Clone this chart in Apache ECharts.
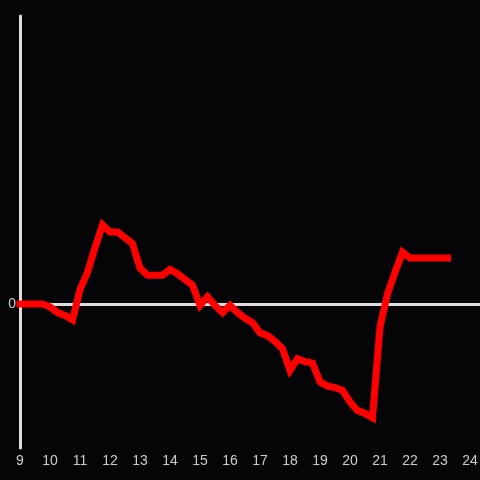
<!DOCTYPE html>
<html>
<head>
<meta charset="utf-8">
<script src="https://cdn.jsdelivr.net/npm/echarts@6/dist/echarts.min.js"></script>
<style>
  html, body { margin: 0; padding: 0; background: #050407; }
  #chart { width: 480px; height: 480px; }
</style>
</head>
<body>
<div id="chart"></div>
<script>
// one point every 15 minutes, from 9:00 to 23:15
var startHour = 9;
var stepHour = 0.25;
var values = [
  0.00, 0.00, 0.00, 0.00, -0.02, -0.06, -0.08, -0.11,
  0.10, 0.22, 0.39, 0.55, 0.50, 0.50, 0.46, 0.42,
  0.25, 0.20, 0.20, 0.20, 0.24, 0.21, 0.17, 0.13,
  -0.01, 0.05, -0.01, -0.06, -0.01, -0.06, -0.10, -0.13,
  -0.20, -0.22, -0.26, -0.31, -0.46, -0.38, -0.40, -0.41,
  -0.54, -0.57, -0.58, -0.60, -0.68, -0.74, -0.76, -0.79,
  -0.16, 0.07, 0.22, 0.36, 0.32, 0.32, 0.32, 0.32,
  0.32, 0.32
];
var yLabels = [0];

var points = [];
for (var i = 0; i < values.length; i++) {
  points.push([startHour + i * stepHour, values[i]]);
}

var chart = echarts.init(document.getElementById('chart'));
chart.setOption({
  backgroundColor: '#050407',
  animation: false,
  grid: { left: 20, right: 0, top: 16, bottom: 32, outerBoundsMode: 'none' },
  xAxis: {
    type: 'value',
    min: 9,
    max: 24 + 1 / 3,
    interval: 1,
    axisLine: { onZero: true, lineStyle: { color: '#dddddd', width: 3 } },
    axisTick: { show: false },
    splitLine: { show: false },
    axisLabel: {
      color: '#cccccc',
      fontSize: 14,
      margin: 6,
      fontFamily: 'Liberation Sans',
      formatter: function (v) { return Number.isInteger(v) ? String(v) : ''; }
    }
  },
  yAxis: {
    type: 'value',
    min: -1,
    max: 2,
    interval: 1,
    axisLine: { show: true, lineStyle: { color: '#dddddd', width: 3 } },
    axisTick: { show: false },
    splitLine: { show: false },
    axisLabel: {
      color: '#cccccc',
      fontSize: 14,
      margin: 4,
      fontFamily: 'Liberation Sans',
      formatter: function (v) { return yLabels.indexOf(v) >= 0 ? String(v) : ''; }
    }
  },
  series: [{
    type: 'line',
    data: points,
    showSymbol: false,
    smooth: false,
    lineStyle: { color: '#ff0000', width: 7, join: 'miter', cap: 'square' }
  }]
});
</script>
</body>
</html>
